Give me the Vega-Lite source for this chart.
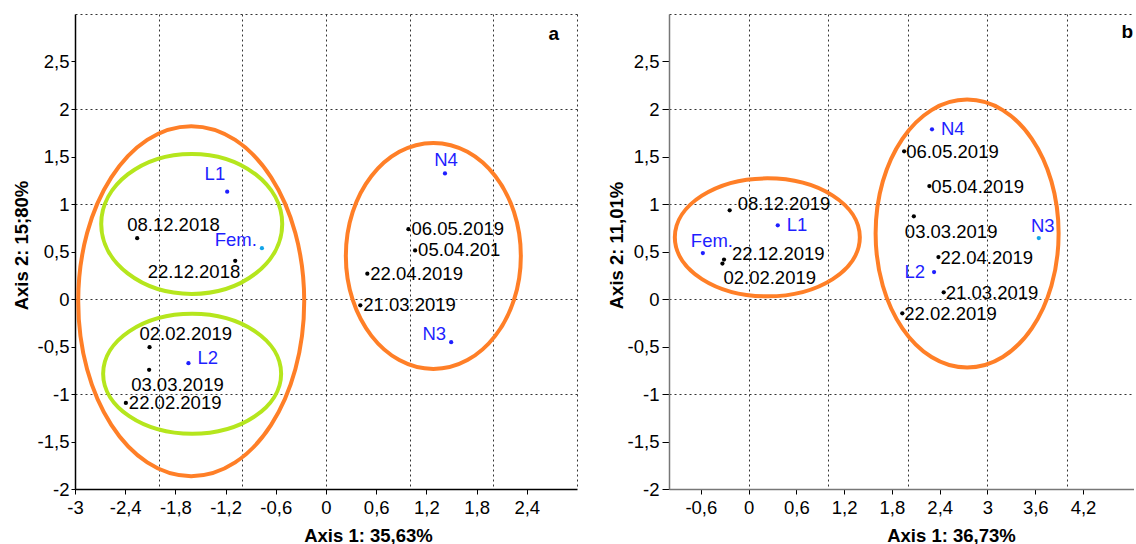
{
  "$schema": "https://vega.github.io/schema/vega-lite/v6.json",
  "background": "white",
  "padding": {"left": 12, "top": 14, "right": 0, "bottom": 0},
  "spacing": 30,
  "resolve": {"scale": {"shape": "independent", "stroke": "independent"}},
  "config": {
    "view": {"stroke": null},
    "axis": {
      "labelFont": "Liberation Sans", "labelFontSize": 18.5, "labelColor": "#000000", "labelFlush": false,
      "titleFont": "Liberation Sans", "titleFontSize": 18.5, "titleFontWeight": "bold", "titleColor": "#000000",
      "tickColor": "#000000", "domainColor": "#000000", "domainWidth": 1.5,
      "gridColor": "#333333", "gridDash": [2, 3], "gridWidth": 1
    },
    "text": {"font": "Liberation Sans", "fontSize": 18.5, "baseline": "alphabetic"}
  },
  "datasets": {
    "pointsA": [
      {"label": "L1", "type": "stage", "pos": "NWr", "x": -1.181, "y": 1.130},
      {"label": "Fem.", "type": "hl", "pos": "W", "x": -0.766, "y": 0.535},
      {"label": "08.12.2018", "type": "date", "pos": "NW", "x": -2.257, "y": 0.640},
      {"label": "22.12.2018", "type": "date", "pos": "SWr", "x": -1.085, "y": 0.402},
      {"label": "N4", "type": "stage", "pos": "N", "x": 1.422, "y": 1.322},
      {"label": "06.05.2019", "type": "date", "pos": "E", "x": 0.985, "y": 0.735},
      {"label": "05.04.201", "type": "date", "pos": "E", "x": 1.065, "y": 0.511},
      {"label": "22.04.2019", "type": "date", "pos": "E", "x": 0.494, "y": 0.266},
      {"label": "21.03.2019", "type": "date", "pos": "E", "x": 0.410, "y": -0.066},
      {"label": "N3", "type": "stage", "pos": "W", "x": 1.496, "y": -0.455},
      {"label": "02.02.2019", "type": "date", "pos": "NW", "x": -2.109, "y": -0.507},
      {"label": "L2", "type": "stage", "pos": "E2", "x": -1.644, "y": -0.675},
      {"label": "03.03.2019", "type": "date", "pos": "S", "x": -2.114, "y": -0.745},
      {"label": "22.02.2019", "type": "date", "pos": "E", "x": -2.392, "y": -1.094}
    ],
    "pointsB": [
      {"label": "08.12.2019", "type": "date", "pos": "E2", "x": -0.238, "y": 0.934},
      {"label": "L1", "type": "stage", "pos": "E3", "x": 0.366, "y": 0.776},
      {"label": "Fem.", "type": "stage", "pos": "NW", "x": -0.575, "y": 0.484},
      {"label": "22.12.2019", "type": "date", "pos": "E2", "x": -0.309, "y": 0.415},
      {"label": "02.02.2019", "type": "date", "pos": "S2", "x": -0.329, "y": 0.373},
      {"label": "N4", "type": "stage", "pos": "E3", "x": 2.303, "y": 1.786},
      {"label": "06.05.2019", "type": "date", "pos": "E", "x": 1.953, "y": 1.555},
      {"label": "05.04.2019", "type": "date", "pos": "E", "x": 2.270, "y": 1.189},
      {"label": "03.03.2019", "type": "date", "pos": "S", "x": 2.075, "y": 0.871},
      {"label": "N3", "type": "hl", "pos": "N", "x": 3.644, "y": 0.642},
      {"label": "22.04.2019", "type": "date", "pos": "E", "x": 2.384, "y": 0.442},
      {"label": "L2", "type": "stage", "pos": "W2", "x": 2.329, "y": 0.284},
      {"label": "21.03.2019", "type": "date", "pos": "E", "x": 2.450, "y": 0.071},
      {"label": "22.02.2019", "type": "date", "pos": "E", "x": 1.930, "y": -0.151}
    ],
    "ellipsesA": [
      {"id": "A1", "ring": "outer", "x": -1.611, "y": -0.023},
      {"id": "A2", "ring": "inner", "x": -1.605, "y": 0.790},
      {"id": "A3", "ring": "inner", "x": -1.600, "y": -0.787},
      {"id": "A4", "ring": "outer", "x": 1.283, "y": 0.453}
    ],
    "ellipsesB": [
      {"id": "B1", "ring": "outer", "x": 0.235, "y": 0.649},
      {"id": "B2", "ring": "outer", "x": 2.744, "y": 0.689}
    ],
    "tagA": [{"tag": "a"}],
    "tagB": [{"tag": "b"}]
  },
  "hconcat": [
    {
      "width": 502,
      "height": 475,
      "data": {"name": "pointsA"},
      "resolve": {"axis": {"x": "independent", "y": "independent"}},
      "layer": [
        {
          "data": {"name": "ellipsesA"},
          "mark": {"type": "point", "filled": false, "size": 4, "strokeWidth": 4, "opacity": 1},
          "encoding": {
            "x": {"field": "x", "type": "quantitative", "scale": {"domain": [-3, 3], "nice": false, "zero": false},
              "axis": {"orient": "bottom", "values": [-2, -1, 0, 1, 2, 3], "grid": true, "labels": false, "ticks": false, "domain": false, "title": null}},
            "y": {"field": "y", "type": "quantitative", "scale": {"domain": [-2, 3], "nice": false, "zero": false},
              "axis": {"orient": "left", "values": [-1, 0, 1, 2, 3], "grid": true, "labels": false, "ticks": false, "domain": false, "title": null}},
            "shape": {"field": "id", "type": "nominal", "legend": null,
              "scale": {"domain": ["A1", "A2", "A3", "A4"],
                "range": [
                  "M-113,0A113,175 0 1,0 113,0A113,175 0 1,0 -113,0Z",
                  "M-90.5,0A90.5,70 0 1,0 90.5,0A90.5,70 0 1,0 -90.5,0Z",
                  "M-89,0A89,60 0 1,0 89,0A89,60 0 1,0 -89,0Z",
                  "M-87.5,0A87.5,113 0 1,0 87.5,0A87.5,113 0 1,0 -87.5,0Z"
                ]}},
            "stroke": {"field": "ring", "type": "nominal", "legend": null,
              "scale": {"domain": ["outer", "inner"], "range": ["#ff7f27", "#b5e61d"]}}
          }
        },
        {
          "mark": {"type": "circle", "size": 18, "opacity": 1},
          "encoding": {
            "x": {"field": "x", "type": "quantitative", "scale": {"domain": [-3, 3], "nice": false, "zero": false},
              "axis": {"orient": "bottom", "values": [-3, -2.4, -1.8, -1.2, -0.6, 0, 0.6, 1.2, 1.8, 2.4], "grid": false, "tickSize": 5, "labelPadding": 4,
                "labelExpr": "replace(toString(datum.value), '.', ',')",
                "title": "Axis 1: 35,63%", "titleX": 293, "titleY": 52, "titleBaseline": "alphabetic", "titleAlign": "center"}},
            "y": {"field": "y", "type": "quantitative", "scale": {"domain": [-2, 3], "nice": false, "zero": false},
              "axis": {"orient": "left", "values": [-2, -1.5, -1, -0.5, 0, 0.5, 1, 1.5, 2, 2.5], "grid": false, "tickSize": 4, "labelPadding": 2,
                "labelExpr": "replace(toString(datum.value), '.', ',')",
                "title": "Axis 2: 15;80%", "titlePadding": 6, "titleY": 231}},
            "color": {"condition": [{"test": "datum.type === 'date'", "value": "#000000"}, {"test": "datum.type === 'hl'", "value": "#12a4e8"}], "value": "#1f1fff"}
          }
        },
        {
          "data": {"name": "tagA"},
          "mark": {"type": "text", "align": "right", "dx": -18, "dy": 26, "fontWeight": "bold", "fontSize": 19},
          "encoding": {
            "x": {"datum": 3, "type": "quantitative", "axis": null, "scale": {"domain": [-3, 3], "nice": false, "zero": false}},
            "y": {"datum": 3, "type": "quantitative", "axis": null, "scale": {"domain": [-2, 3], "nice": false, "zero": false}},
            "text": {"field": "tag"},
            "color": {"value": "#000000"}
          }
        },
        {
          "transform": [{"filter": "datum.pos === 'E'"}],
          "mark": {"type": "text", "align": "left", "dx": 3, "dy": 6},
          "encoding": {
            "x": {"field": "x", "type": "quantitative", "axis": null, "scale": {"domain": [-3, 3], "nice": false, "zero": false}},
            "y": {"field": "y", "type": "quantitative", "axis": null, "scale": {"domain": [-2, 3], "nice": false, "zero": false}},
            "text": {"field": "label"},
            "color": {"condition": {"test": "datum.type === 'date'", "value": "#000000"}, "value": "#1f1fff"}
          }
        },
        {
          "transform": [{"filter": "datum.pos === 'E2'"}],
          "mark": {"type": "text", "align": "left", "dx": 9, "dy": 1},
          "encoding": {
            "x": {"field": "x", "type": "quantitative", "axis": null, "scale": {"domain": [-3, 3], "nice": false, "zero": false}},
            "y": {"field": "y", "type": "quantitative", "axis": null, "scale": {"domain": [-2, 3], "nice": false, "zero": false}},
            "text": {"field": "label"},
            "color": {"condition": {"test": "datum.type === 'date'", "value": "#000000"}, "value": "#1f1fff"}
          }
        },
        {
          "transform": [{"filter": "datum.pos === 'W'"}],
          "mark": {"type": "text", "align": "right", "dx": -5, "dy": -2},
          "encoding": {
            "x": {"field": "x", "type": "quantitative", "axis": null, "scale": {"domain": [-3, 3], "nice": false, "zero": false}},
            "y": {"field": "y", "type": "quantitative", "axis": null, "scale": {"domain": [-2, 3], "nice": false, "zero": false}},
            "text": {"field": "label"},
            "color": {"condition": {"test": "datum.type === 'date'", "value": "#000000"}, "value": "#1f1fff"}
          }
        },
        {
          "transform": [{"filter": "datum.pos === 'NW'"}],
          "mark": {"type": "text", "align": "left", "dx": -10, "dy": -7},
          "encoding": {
            "x": {"field": "x", "type": "quantitative", "axis": null, "scale": {"domain": [-3, 3], "nice": false, "zero": false}},
            "y": {"field": "y", "type": "quantitative", "axis": null, "scale": {"domain": [-2, 3], "nice": false, "zero": false}},
            "text": {"field": "label"},
            "color": {"condition": {"test": "datum.type === 'date'", "value": "#000000"}, "value": "#1f1fff"}
          }
        },
        {
          "transform": [{"filter": "datum.pos === 'NWr'"}],
          "mark": {"type": "text", "align": "right", "dx": -2, "dy": -12},
          "encoding": {
            "x": {"field": "x", "type": "quantitative", "axis": null, "scale": {"domain": [-3, 3], "nice": false, "zero": false}},
            "y": {"field": "y", "type": "quantitative", "axis": null, "scale": {"domain": [-2, 3], "nice": false, "zero": false}},
            "text": {"field": "label"},
            "color": {"condition": {"test": "datum.type === 'date'", "value": "#000000"}, "value": "#1f1fff"}
          }
        },
        {
          "transform": [{"filter": "datum.pos === 'SWr'"}],
          "mark": {"type": "text", "align": "right", "dx": 5, "dy": 17},
          "encoding": {
            "x": {"field": "x", "type": "quantitative", "axis": null, "scale": {"domain": [-3, 3], "nice": false, "zero": false}},
            "y": {"field": "y", "type": "quantitative", "axis": null, "scale": {"domain": [-2, 3], "nice": false, "zero": false}},
            "text": {"field": "label"},
            "color": {"condition": {"test": "datum.type === 'date'", "value": "#000000"}, "value": "#1f1fff"}
          }
        },
        {
          "transform": [{"filter": "datum.pos === 'N'"}],
          "mark": {"type": "text", "align": "center", "dx": 1, "dy": -7},
          "encoding": {
            "x": {"field": "x", "type": "quantitative", "axis": null, "scale": {"domain": [-3, 3], "nice": false, "zero": false}},
            "y": {"field": "y", "type": "quantitative", "axis": null, "scale": {"domain": [-2, 3], "nice": false, "zero": false}},
            "text": {"field": "label"},
            "color": {"condition": {"test": "datum.type === 'date'", "value": "#000000"}, "value": "#1f1fff"}
          }
        },
        {
          "transform": [{"filter": "datum.pos === 'S'"}],
          "mark": {"type": "text", "align": "left", "dx": -18, "dy": 21},
          "encoding": {
            "x": {"field": "x", "type": "quantitative", "axis": null, "scale": {"domain": [-3, 3], "nice": false, "zero": false}},
            "y": {"field": "y", "type": "quantitative", "axis": null, "scale": {"domain": [-2, 3], "nice": false, "zero": false}},
            "text": {"field": "label"},
            "color": {"condition": {"test": "datum.type === 'date'", "value": "#000000"}, "value": "#1f1fff"}
          }
        }
      ]
    },
    {
      "width": 465,
      "height": 475,
      "data": {"name": "pointsB"},
      "resolve": {"axis": {"x": "independent", "y": "independent"}},
      "layer": [
        {
          "data": {"name": "ellipsesB"},
          "mark": {"type": "point", "filled": false, "size": 4, "strokeWidth": 4, "opacity": 1},
          "encoding": {
            "x": {"field": "x", "type": "quantitative", "scale": {"domain": [-1, 4.84], "nice": false, "zero": false},
              "axis": {"orient": "bottom", "values": [0, 1, 2, 3, 4], "grid": true, "labels": false, "ticks": false, "domain": false, "title": null}},
            "y": {"field": "y", "type": "quantitative", "scale": {"domain": [-2, 3], "nice": false, "zero": false},
              "axis": {"orient": "left", "values": [-1, 0, 1, 2, 3], "grid": true, "labels": false, "ticks": false, "domain": false, "title": null}},
            "shape": {"field": "id", "type": "nominal", "legend": null,
              "scale": {"domain": ["B1", "B2"],
                "range": [
                  "M-92.5,0A92.5,59 0 1,0 92.5,0A92.5,59 0 1,0 -92.5,0Z",
                  "M-91.5,0A91.5,134 0 1,0 91.5,0A91.5,134 0 1,0 -91.5,0Z"
                ]}},
            "stroke": {"field": "ring", "type": "nominal", "legend": null,
              "scale": {"domain": ["outer", "inner"], "range": ["#ff7f27", "#b5e61d"]}}
          }
        },
        {
          "mark": {"type": "circle", "size": 18, "opacity": 1},
          "encoding": {
            "x": {"field": "x", "type": "quantitative", "scale": {"domain": [-1, 4.84], "nice": false, "zero": false},
              "axis": {"orient": "bottom", "values": [-0.6, 0, 0.6, 1.2, 1.8, 2.4, 3, 3.6, 4.2], "grid": false, "tickSize": 5, "labelPadding": 4,
                "domainColor": "#777777",
                "labelExpr": "replace(toString(datum.value), '.', ',')",
                "title": "Axis 1: 36,73%", "titleX": 282, "titleY": 52, "titleBaseline": "alphabetic", "titleAlign": "center"}},
            "y": {"field": "y", "type": "quantitative", "scale": {"domain": [-2, 3], "nice": false, "zero": false},
              "axis": {"orient": "left", "values": [-2, -1.5, -1, -0.5, 0, 0.5, 1, 1.5, 2, 2.5], "grid": false, "tickSize": 7, "labelPadding": 3,
                "domainColor": "#777777",
                "labelExpr": "replace(toString(datum.value), '.', ',')",
                "title": "Axis 2: 11,01%", "titlePadding": 1, "titleY": 231}},
            "color": {"condition": [{"test": "datum.type === 'date'", "value": "#000000"}, {"test": "datum.type === 'hl'", "value": "#12a4e8"}], "value": "#1f1fff"}
          }
        },
        {
          "data": {"name": "tagB"},
          "mark": {"type": "text", "align": "right", "dx": -1, "dy": 24, "fontWeight": "bold", "fontSize": 19},
          "encoding": {
            "x": {"datum": 4.84, "type": "quantitative", "axis": null, "scale": {"domain": [-1, 4.84], "nice": false, "zero": false}},
            "y": {"datum": 3, "type": "quantitative", "axis": null, "scale": {"domain": [-2, 3], "nice": false, "zero": false}},
            "text": {"field": "tag"},
            "color": {"value": "#000000"}
          }
        },
        {
          "transform": [{"filter": "datum.pos === 'E'"}],
          "mark": {"type": "text", "align": "left", "dx": 2, "dy": 7},
          "encoding": {
            "x": {"field": "x", "type": "quantitative", "axis": null, "scale": {"domain": [-1, 4.84], "nice": false, "zero": false}},
            "y": {"field": "y", "type": "quantitative", "axis": null, "scale": {"domain": [-2, 3], "nice": false, "zero": false}},
            "text": {"field": "label"},
            "color": {"condition": {"test": "datum.type === 'date'", "value": "#000000"}, "value": "#1f1fff"}
          }
        },
        {
          "transform": [{"filter": "datum.pos === 'E2'"}],
          "mark": {"type": "text", "align": "left", "dx": 8, "dy": 0},
          "encoding": {
            "x": {"field": "x", "type": "quantitative", "axis": null, "scale": {"domain": [-1, 4.84], "nice": false, "zero": false}},
            "y": {"field": "y", "type": "quantitative", "axis": null, "scale": {"domain": [-2, 3], "nice": false, "zero": false}},
            "text": {"field": "label"},
            "color": {"condition": {"test": "datum.type === 'date'", "value": "#000000"}, "value": "#1f1fff"}
          }
        },
        {
          "transform": [{"filter": "datum.pos === 'E3'"}],
          "mark": {"type": "text", "align": "left", "dx": 9, "dy": 6},
          "encoding": {
            "x": {"field": "x", "type": "quantitative", "axis": null, "scale": {"domain": [-1, 4.84], "nice": false, "zero": false}},
            "y": {"field": "y", "type": "quantitative", "axis": null, "scale": {"domain": [-2, 3], "nice": false, "zero": false}},
            "text": {"field": "label"},
            "color": {"condition": {"test": "datum.type === 'date'", "value": "#000000"}, "value": "#1f1fff"}
          }
        },
        {
          "transform": [{"filter": "datum.pos === 'NW'"}],
          "mark": {"type": "text", "align": "left", "dx": -12, "dy": -6},
          "encoding": {
            "x": {"field": "x", "type": "quantitative", "axis": null, "scale": {"domain": [-1, 4.84], "nice": false, "zero": false}},
            "y": {"field": "y", "type": "quantitative", "axis": null, "scale": {"domain": [-2, 3], "nice": false, "zero": false}},
            "text": {"field": "label"},
            "color": {"condition": {"test": "datum.type === 'date'", "value": "#000000"}, "value": "#1f1fff"}
          }
        },
        {
          "transform": [{"filter": "datum.pos === 'S2'"}],
          "mark": {"type": "text", "align": "left", "dx": 1, "dy": 20},
          "encoding": {
            "x": {"field": "x", "type": "quantitative", "axis": null, "scale": {"domain": [-1, 4.84], "nice": false, "zero": false}},
            "y": {"field": "y", "type": "quantitative", "axis": null, "scale": {"domain": [-2, 3], "nice": false, "zero": false}},
            "text": {"field": "label"},
            "color": {"condition": {"test": "datum.type === 'date'", "value": "#000000"}, "value": "#1f1fff"}
          }
        },
        {
          "transform": [{"filter": "datum.pos === 'S'"}],
          "mark": {"type": "text", "align": "left", "dx": -9, "dy": 22},
          "encoding": {
            "x": {"field": "x", "type": "quantitative", "axis": null, "scale": {"domain": [-1, 4.84], "nice": false, "zero": false}},
            "y": {"field": "y", "type": "quantitative", "axis": null, "scale": {"domain": [-2, 3], "nice": false, "zero": false}},
            "text": {"field": "label"},
            "color": {"condition": {"test": "datum.type === 'date'", "value": "#000000"}, "value": "#1f1fff"}
          }
        },
        {
          "transform": [{"filter": "datum.pos === 'N'"}],
          "mark": {"type": "text", "align": "center", "dx": 4, "dy": -6},
          "encoding": {
            "x": {"field": "x", "type": "quantitative", "axis": null, "scale": {"domain": [-1, 4.84], "nice": false, "zero": false}},
            "y": {"field": "y", "type": "quantitative", "axis": null, "scale": {"domain": [-2, 3], "nice": false, "zero": false}},
            "text": {"field": "label"},
            "color": {"condition": {"test": "datum.type === 'date'", "value": "#000000"}, "value": "#1f1fff"}
          }
        },
        {
          "transform": [{"filter": "datum.pos === 'W2'"}],
          "mark": {"type": "text", "align": "right", "dx": -9, "dy": 6},
          "encoding": {
            "x": {"field": "x", "type": "quantitative", "axis": null, "scale": {"domain": [-1, 4.84], "nice": false, "zero": false}},
            "y": {"field": "y", "type": "quantitative", "axis": null, "scale": {"domain": [-2, 3], "nice": false, "zero": false}},
            "text": {"field": "label"},
            "color": {"condition": {"test": "datum.type === 'date'", "value": "#000000"}, "value": "#1f1fff"}
          }
        }
      ]
    }
  ]
}
